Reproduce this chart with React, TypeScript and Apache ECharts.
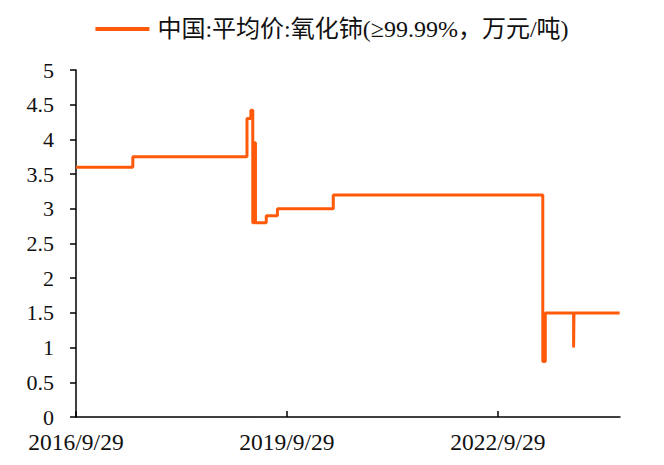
import React, { useEffect, useRef } from "react";
import * as echarts from "echarts";

const seriesName = "中国:平均价:氧化铈(≥99.99%，万元/吨)";

// Dates on which the price changed to the value at the same index
const changeDates = [
  "2016-09-29",
  "2017-07-21",
  "2019-03-06",
  "2019-03-26",
  "2019-04-05",
  "2019-04-14",
  "2019-04-19",
  "2019-06-14",
  "2019-08-11",
  "2020-05-27",
  "2023-05-20",
  "2023-06-02",
  "2023-10-27",
  "2023-10-29",
  "2024-06-22",
];
const prices = [3.6, 3.75, 4.3, 4.42, 2.8, 3.95, 2.8, 2.9, 3.0, 3.2, 0.8, 1.5, 1.0, 1.5, 1.5];

const xTickDates = ["2016-09-29", "2019-09-29", "2022-09-29"];
const xTickLabels = ["2016/9/29", "2019/9/29", "2022/9/29"];
const xStart = "2016-09-29";
const xEnd = "2024-06-24";

const yMin = 0;
const yMax = 5;
const yStep = 0.5;

const toTs = (s: string) => {
  const [y, m, d] = s.split("-").map(Number);
  return Date.UTC(y, m - 1, d);
};

const FONT = "'Liberation Serif', 'Times New Roman', 'Noto Sans CJK SC', serif";
const LINE_COLOR = "#FF5A0A";

export default function App() {
  const ref = useRef<HTMLDivElement>(null);

  useEffect(() => {
    if (!ref.current) return;
    const chart = echarts.init(ref.current, undefined, { renderer: "svg" });
    const tickTs = xTickDates.map(toTs);
    const data = changeDates.map((d, i) => [toTs(d), prices[i]]);

    chart.setOption({
      animation: false,
      backgroundColor: "#fff",
      legend: {
        show: true,
        left: "center",
        top: 12,
        itemWidth: 54,
        itemHeight: 14,
        itemGap: 8,
        data: [{ name: seriesName, icon: "path://M0,0H54V4H0Z" }],
        itemStyle: { color: LINE_COLOR },
        textStyle: { fontFamily: FONT, fontSize: 24, color: "#111", padding: [0, 0, 0, 3] },
      },
      grid: { left: 76, right: 44, top: 70, bottom: 48, containLabel: false },
      xAxis: {
        type: "value",
        min: toTs(xStart),
        max: toTs(xEnd),
        splitLine: { show: false },
        axisLine: { show: true, lineStyle: { color: "#000", width: 1.5 } },
        axisTick: {
          show: true,
          inside: true,
          length: 6,
          customValues: tickTs,
          lineStyle: { color: "#000", width: 1.5 },
        },
        axisLabel: {
          customValues: tickTs,
          margin: 13,
          fontFamily: FONT,
          fontSize: 23.5,
          color: "#111",
          formatter: (v: number) => {
            let best = 0;
            tickTs.forEach((t, i) => {
              if (Math.abs(t - v) < Math.abs(tickTs[best] - v)) best = i;
            });
            return xTickLabels[best];
          },
        },
      },
      yAxis: {
        type: "value",
        min: yMin,
        max: yMax,
        interval: yStep,
        splitLine: { show: false },
        axisLine: { show: true, lineStyle: { color: "#000", width: 1.5 } },
        axisTick: { show: true, inside: false, length: 6, lineStyle: { color: "#000", width: 1.5 } },
        axisLabel: { margin: 22, fontFamily: FONT, fontSize: 22, color: "#111" },
      },
      series: [
        {
          name: seriesName,
          type: "line",
          step: "end",
          data,
          symbol: "none",
          showSymbol: false,
          lineStyle: { color: LINE_COLOR, width: 3 },
          itemStyle: { color: LINE_COLOR },
        },
      ],
    });
    return () => chart.dispose();
  }, []);

  return (
    <div
      ref={ref}
      style={{ position: "fixed", left: 0, top: 0, width: 664, height: 465 }}
    />
  );
}
